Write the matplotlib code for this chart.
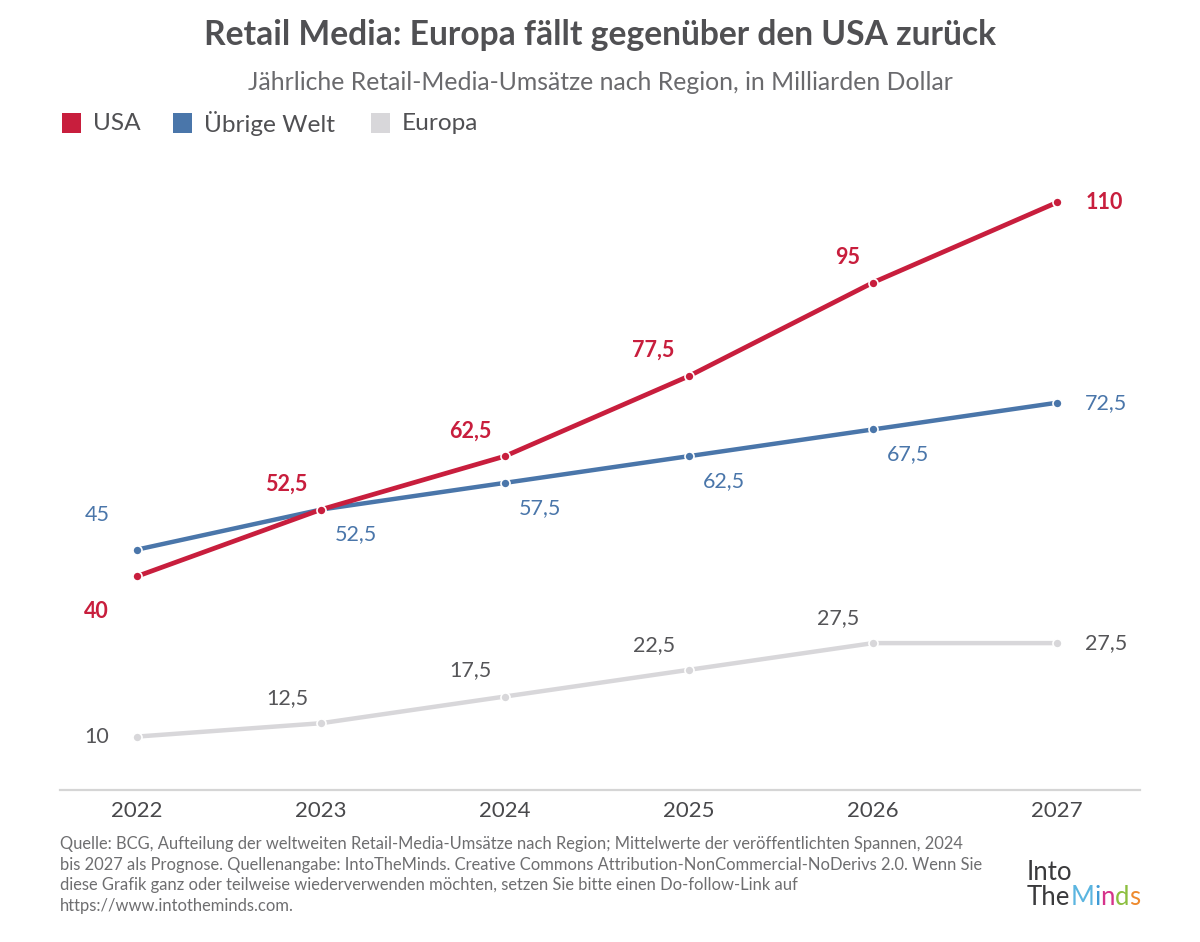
import matplotlib
matplotlib.use("Agg")
import matplotlib.pyplot as plt
from matplotlib.patches import Rectangle
from matplotlib.text import Annotation

plt.rcParams['font.family'] = ['Lato', 'DejaVu Sans']

# Data (Milliarden Dollar)
years = [2022, 2023, 2024, 2025, 2026, 2027]
usa = [40, 52.5, 62.5, 77.5, 95, 110]
rest = [45, 52.5, 57.5, 62.5, 67.5, 72.5]
europa = [10, 12.5, 17.5, 22.5, 27.5, 27.5]
series_names = ['USA', 'Übrige Welt', 'Europa']

RED = '#C81E3D'
BLUE = '#4A76AA'
GREY = '#D8D7DA'
TEXT = '#555558'

def fmt(v):
    return (f'{v:g}').replace('.', ',')

W, H = 1200, 942
fig = plt.figure(figsize=(12, 9.42), dpi=100)
# axes: x from 60 to 1140 px, y value 0 at 790 px
ax = fig.add_axes([60 / W, (H - 790) / H, 1080 / W, (790 - 149) / H])
ax.set_xlim(2022 - 77 / 184, 2027 + 83 / 184)
ax.set_ylim(0, 120)

ax.plot(years, europa, color=GREY, lw=3.2, marker='o', ms=6.5, mfc=GREY, mec='white', mew=1.2, zorder=2)
ax.plot(years, rest, color=BLUE, lw=3.2, marker='o', ms=6.5, mfc=BLUE, mec='white', mew=1.2, zorder=3)
ax.plot(years, usa, color=RED, lw=3.4, marker='o', ms=6.5, mfc=RED, mec='white', mew=1.2, zorder=4)

# data labels (offsets in pixels)
usa_off = [(-41, -35), (-35, 25), (-35, 25), (-36, 26), (-25, 25), (47, 0)]
rest_off = [(-40, 35), (35, -25), (35, -25), (35, -25), (35, -25), (49, 0)]
eu_off = [(-40, 0), (-34, 25), (-35, 26), (-35, 25), (-35, 25), (49, 0)]

for x, v, o in zip(years, usa, usa_off):
    ax.annotate(fmt(v), (x, v), xytext=o, textcoords='offset pixels', ha='center', va='center',
                fontsize=15.5, fontweight='bold', color=RED)
for x, v, o in zip(years, rest, rest_off):
    ax.annotate(fmt(v), (x, v), xytext=o, textcoords='offset pixels', ha='center', va='center',
                fontsize=15.5, color=BLUE)
for x, v, o in zip(years, europa, eu_off):
    ax.annotate(fmt(v), (x, v), xytext=o, textcoords='offset pixels', ha='center', va='center',
                fontsize=15.5, color=TEXT)

for s in ['top', 'right', 'left']:
    ax.spines[s].set_visible(False)
ax.spines['bottom'].set_color('#D5D5D5')
ax.spines['bottom'].set_linewidth(1.6)
ax.set_yticks([])
ax.set_xticks(years)
ax.set_xticklabels([str(y) for y in years])
ax.tick_params(axis='x', length=0, pad=8, labelsize=16, labelcolor='#48484B')

# title and subtitle
fig.text(0.5, 1 - 35 / H, 'Retail Media: Europa fällt gegenüber den USA zurück', ha='center', va='center',
         fontsize=24.2, fontweight='bold', color='#505053')
fig.text(0.5, 1 - 82 / H, 'Jährliche Retail-Media-Umsätze nach Region, in Milliarden Dollar', ha='center',
         va='center', fontsize=17.8, color='#6A6A6D')

# legend (manual squares + labels)
sq_x = [62, 173, 371]
lab_x = [93, 204, 402]
for sx, lx, c, name in zip(sq_x, lab_x, (RED, BLUE, GREY), series_names):
    fig.patches.append(Rectangle((sx / W, 1 - 133 / H), 19 / W, 20 / H, transform=fig.transFigure,
                                 facecolor=c, edgecolor='none'))
    fig.text(lx / W, 1 - 123 / H, name, ha='left', va='center', fontsize=17.6, color='#505053')

# footer
footer = ('Quelle: BCG, Aufteilung der weltweiten Retail-Media-Umsätze nach Region; Mittelwerte der veröffentlichten Spannen, 2024\n'
          'bis 2027 als Prognose. Quellenangabe: IntoTheMinds. Creative Commons Attribution-NonCommercial-NoDerivs 2.0. Wenn Sie\n'
          'diese Grafik ganz oder teilweise wiederverwenden möchten, setzen Sie bitte einen Do-follow-Link auf\n'
          'https://www.intotheminds.com.')
fig.text(60 / W, 1 - 836 / H, footer, ha='left', va='top', fontsize=11.9, color='#6E6E70', linespacing=1.36)

# logo: "Into" / "The" + coloured "Minds"
fig.text(1027 / W, 1 - 880 / H, 'Into', ha='left', va='baseline', fontsize=18.5, color='#3A3A3C')
chain = fig.text(1027 / W, 1 - 905 / H, 'The', ha='left', va='baseline', fontsize=18.5, color='#3A3A3C')
for ch, c in zip('Minds', ['#5BB5E0', '#3E9AD6', '#D6338B', '#8CBF3F', '#EE8A2E']):
    chain = fig.add_artist(Annotation(ch, xy=(1, 0), xycoords=chain, xytext=(0, 0),
                                      textcoords='offset pixels', ha='left', va='bottom',
                                      fontsize=18.5, color=c, annotation_clip=False))

fig.savefig('out.png', dpi=100, facecolor='white')
